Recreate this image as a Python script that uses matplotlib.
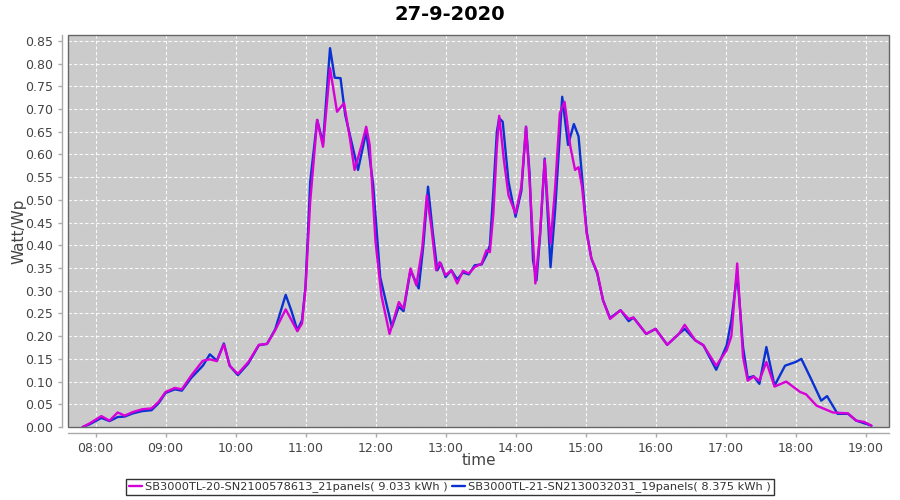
import matplotlib
matplotlib.use("Agg")
import matplotlib.pyplot as plt
from matplotlib.patches import Rectangle

title = "27-9-2020"
x_label = "time"
y_label = "Watt/Wp"
tick_hours = list(range(8, 20))
tick_labels = ["08:00", "09:00", "10:00", "11:00", "12:00", "13:00",
               "14:00", "15:00", "16:00", "17:00", "18:00", "19:00"]
y_ticks = [round(0.05 * i, 2) for i in range(18)]

name_m = "SB3000TL-20-SN2100578613_21panels( 9.033 kWh )"
times_m = ["07:49", "07:55", "08:05", "08:12", "08:19", "08:25", "08:32", "08:40", "08:48", "08:54",
           "09:00", "09:08", "09:14", "09:22", "09:32", "09:38", "09:44", "09:50", "09:55", "10:02",
           "10:11", "10:20", "10:27", "10:34", "10:43", "10:48", "10:53", "10:57", "11:00", "11:04",
           "11:10", "11:15", "11:21", "11:27", "11:33", "11:38", "11:42", "11:48", "11:52", "11:55",
           "12:00", "12:05", "12:12", "12:20", "12:24", "12:30", "12:35", "12:40", "12:44", "12:48",
           "12:52", "12:55", "13:00", "13:05", "13:10", "13:15", "13:20", "13:25", "13:31", "13:35",
           "13:38", "13:41", "13:44", "13:46", "13:50", "13:54", "14:00", "14:05", "14:09", "14:12",
           "14:17", "14:21", "14:25", "14:30", "14:34", "14:38", "14:42", "14:47", "14:51", "14:54",
           "14:57", "15:01", "15:05", "15:10", "15:15", "15:21", "15:30", "15:37", "15:41", "15:52",
           "16:00", "16:10", "16:20", "16:25", "16:34", "16:41", "16:52", "17:01", "17:05", "17:10",
           "17:15", "17:19", "17:24", "17:29", "17:35", "17:42", "17:52", "18:04", "18:09", "18:18",
           "18:32", "18:45", "18:52", "18:59", "19:05"]
values_m = [0.000, 0.008, 0.024, 0.014, 0.032, 0.025, 0.033, 0.039, 0.041, 0.055,
            0.077, 0.086, 0.083, 0.113, 0.146, 0.149, 0.145, 0.182, 0.135, 0.117,
            0.143, 0.181, 0.183, 0.213, 0.259, 0.235, 0.211, 0.228, 0.305, 0.496,
            0.676, 0.617, 0.790, 0.694, 0.713, 0.636, 0.566, 0.620, 0.661, 0.621,
            0.408, 0.290, 0.205, 0.275, 0.260, 0.349, 0.312, 0.393, 0.510, 0.437,
            0.345, 0.363, 0.334, 0.345, 0.316, 0.344, 0.338, 0.352, 0.360, 0.389,
            0.385, 0.470, 0.617, 0.685, 0.588, 0.510, 0.470, 0.529, 0.661, 0.544,
            0.316, 0.426, 0.588, 0.404, 0.529, 0.691, 0.716, 0.617, 0.566, 0.572,
            0.529, 0.426, 0.371, 0.341, 0.279, 0.238, 0.257, 0.238, 0.241, 0.205,
            0.216, 0.181, 0.205, 0.225, 0.191, 0.180, 0.135, 0.169, 0.200, 0.360,
            0.154, 0.102, 0.111, 0.102, 0.143, 0.089, 0.100, 0.077, 0.072, 0.047,
            0.032, 0.030, 0.014, 0.011, 0.003]

name_b = "SB3000TL-21-SN2130032031_19panels( 8.375 kWh )"
times_b = ["07:49", "07:55", "08:05", "08:12", "08:19", "08:25", "08:32", "08:40", "08:48", "08:54",
           "09:00", "09:08", "09:14", "09:22", "09:32", "09:38", "09:44", "09:50", "09:55", "10:02",
           "10:11", "10:20", "10:27", "10:34", "10:43", "10:48", "10:53", "10:57", "11:00", "11:04",
           "11:10", "11:15", "11:21", "11:25", "11:30", "11:34", "11:40", "11:45", "11:52", "11:58",
           "12:04", "12:14", "12:20", "12:24", "12:30", "12:37", "12:41", "12:45", "12:49", "12:53",
           "12:56", "13:00", "13:05", "13:10", "13:15", "13:20", "13:25", "13:31", "13:35", "13:38",
           "13:41", "13:44", "13:46", "13:49", "13:54", "14:00", "14:05", "14:09", "14:12", "14:15",
           "14:18", "14:21", "14:25", "14:30", "14:34", "14:40", "14:45", "14:50", "14:54", "14:58",
           "15:01", "15:05", "15:10", "15:15", "15:21", "15:30", "15:37", "15:41", "15:52", "16:00",
           "16:10", "16:20", "16:25", "16:34", "16:41", "16:52", "17:01", "17:05", "17:10", "17:15",
           "17:19", "17:24", "17:29", "17:35", "17:42", "17:51", "18:00", "18:05", "18:14", "18:22",
           "18:27", "18:36", "18:45", "18:52", "19:05"]
values_b = [0.000, 0.006, 0.020, 0.013, 0.022, 0.023, 0.030, 0.035, 0.037, 0.052,
            0.075, 0.083, 0.080, 0.108, 0.135, 0.160, 0.146, 0.184, 0.135, 0.114,
            0.140, 0.180, 0.183, 0.215, 0.291, 0.255, 0.213, 0.235, 0.310, 0.540,
            0.676, 0.625, 0.834, 0.769, 0.768, 0.687, 0.621, 0.566, 0.650, 0.533,
            0.330, 0.220, 0.265, 0.255, 0.345, 0.305, 0.400, 0.529, 0.430, 0.345,
            0.360, 0.330, 0.345, 0.325, 0.340, 0.336, 0.356, 0.358, 0.378, 0.400,
            0.520, 0.650, 0.680, 0.672, 0.540, 0.463, 0.520, 0.661, 0.560, 0.367,
            0.323, 0.420, 0.591, 0.352, 0.480, 0.727, 0.621, 0.667, 0.640, 0.521,
            0.430, 0.371, 0.338, 0.279, 0.240, 0.257, 0.233, 0.241, 0.205, 0.216,
            0.181, 0.205, 0.216, 0.191, 0.180, 0.126, 0.180, 0.235, 0.338, 0.176,
            0.108, 0.112, 0.095, 0.176, 0.091, 0.135, 0.143, 0.150, 0.102, 0.058,
            0.068, 0.029, 0.029, 0.014, 0.003]


def to_hours(ts):
    out = []
    for t in ts:
        h, m = t.split(":")
        out.append(int(h) + int(m) / 60.0)
    return out


color_m = "#d800d8"
color_b = "#0a32d2"

fig = plt.figure(figsize=(9, 5), dpi=100)
ax = fig.add_axes([68 / 900, 1 - 427 / 500, (889 - 68) / 900, (427 - 35) / 500])
ax.set_facecolor("#cbcbcb")

lb, = ax.plot(to_hours(times_b), values_b, color=color_b, lw=1.7, label=name_b, zorder=3,
              solid_joinstyle="round", solid_capstyle="round")
lm, = ax.plot(to_hours(times_m), values_m, color=color_m, lw=1.7, label=name_m, zorder=4,
              solid_joinstyle="round", solid_capstyle="round")

ax.set_xlim(7.607, 19.335)
ax.set_ylim(0, 0.863)
ax.set_xticks(tick_hours)
ax.set_xticklabels(tick_labels)
ax.set_yticks(y_ticks)
ax.set_yticklabels([f"{v:.2f}" for v in y_ticks])
ax.grid(True, color="white", linestyle=(0, (3, 2)), linewidth=0.8, alpha=0.9)
ax.set_axisbelow(True)

for s in ["top", "right"]:
    ax.spines[s].set_visible(False)
for s in ["left", "bottom"]:
    ax.spines[s].set_position(("outward", 4))
    ax.spines[s].set_color("#aaaaaa")
    ax.spines[s].set_linewidth(1.0)
ax.add_patch(Rectangle((0, 0), 1, 1, transform=ax.transAxes, fill=False,
                       edgecolor="#666666", lw=1.0, zorder=5, clip_on=False))

ax.tick_params(axis="both", colors="#aaaaaa", labelcolor="#444444", labelsize=9, length=3, width=1)
ax.set_xlabel(x_label, fontsize=11, color="#444444")
ax.set_ylabel(y_label, fontsize=11, color="#444444")
ax.yaxis.set_label_coords(-0.050, 0.5)
ax.xaxis.set_label_coords(0.5, -0.066)
fig.suptitle(title, fontsize=14, fontweight="bold", y=0.99, x=0.5, va="top")

leg = fig.legend(handles=[lm, lb], labels=[name_m, name_b], loc="center",
                 bbox_to_anchor=(0.5, 1 - 487 / 500), ncol=2, fontsize=8.2,
                 frameon=True, fancybox=False, edgecolor="black", handlelength=1.1,
                 handletextpad=0.3, columnspacing=0.4, borderpad=0.25, borderaxespad=0)
leg.get_frame().set_linewidth(1.0)
for t in leg.get_texts():
    t.set_color("#333333")

fig.savefig("out.png", dpi=100)
